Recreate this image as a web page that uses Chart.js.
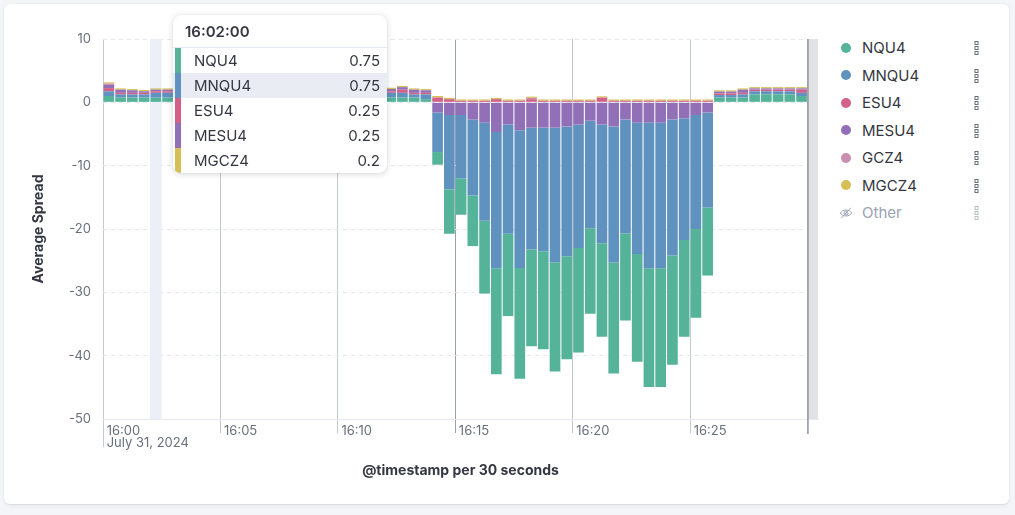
<!DOCTYPE html>
<html>
<head>
<meta charset="utf-8">
<script src="https://cdn.jsdelivr.net/npm/chart.js@4.4.1/dist/chart.umd.min.js"></script>
<style>
html,body{margin:0;padding:0;width:1015px;height:515px;overflow:hidden;background:#F3F5F9;font-family:Inter,"Noto Sans",sans-serif;}
#card{position:absolute;left:4px;top:4px;width:1005px;height:500px;background:#fff;border-radius:6px;box-shadow:0 0.7px 1.4px rgba(0,0,0,0.07),0 1.9px 4px rgba(0,0,0,0.05);}
#wrap{position:absolute;left:0;top:0;width:830px;height:515px;}
#legend{position:absolute;left:838px;top:34px;width:160px;}
.li{position:relative;height:27.5px;display:flex;align-items:center;font-size:15px;color:#343741;}
.dot{width:10px;height:10px;border-radius:50%;margin-left:3px;margin-right:11px;flex:none;}
.kebab{position:absolute;left:136px;top:7px;}
.other{color:#98A2B3;}
#tip{position:absolute;left:173px;top:15px;width:214px;height:158px;background:#fff;border-radius:8px;box-shadow:0 1px 6px rgba(0,0,0,0.16),0 0 1px rgba(0,0,0,0.12);overflow:hidden;color:#343741;}
#tiph{height:32px;line-height:33px;padding-left:12px;font-size:15px;font-weight:600;border-bottom:1px solid #E3E8F2;}
.tr{position:relative;height:25px;line-height:25px;font-size:15px;}
.tr .strip{position:absolute;left:1.5px;top:0;width:6px;height:100%;}
.tr .lab{position:absolute;left:21px;}
.tr .val{position:absolute;right:7px;}
.tr.hl{background:#E9EDF3;}
</style>
</head>
<body>
<div id="card"></div>
<div id="wrap"><canvas id="c"></canvas></div>
<div id="legend"></div>
<div id="tip"></div>
<script>
// ---- data ----
const seriesNames = ['NQU4', 'MNQU4', 'ESU4', 'MESU4', 'GCZ4', 'MGCZ4'];
const seriesColors = ['#54B399', '#6092C0', '#D36086', '#9170B8', '#CA8EAE', '#D6BF57'];
const otherLabel = 'Other';

const NQU4 = [
  1.0, 0.75, 0.75, 0.75, 0.75, 0.75,
  0.75, 0.75, 1.0, 0.75, 0.75, 0.75, 1.0, 0.75, 0.75, 0.75, 1.0, 0.75, 0.75, 0.75, 0.75, 1.0, 0.75, 0.75,
  0.75, 0.75, 0.75, 0.5,
  -2.0, -7.0, -5.75, -8.0, -11.5, -16.75, -13.0, -17.5, -15.25, -15.5, -17.25, -16.25,
  -16.5, -13.5, -14.75, -17.5, -13.75, -17.0, -18.75, -18.75, -17.25, -15.25, -14.0, -10.75,
  0.75, 0.75, 0.75, 1.25, 1.25, 1.25, 1.25, 1.0
];
const MNQU4 = [
  0.75, 0.5, 0.5, 0.5, 0.75, 0.75,
  0.75, 0.5, 0.75, 0.75, 0.5, 0.75, 0.75, 0.75, 0.5, 0.75, 0.75, 0.75, 0.5, 0.75, 0.75, 0.75, 0.5, 0.75,
  0.75, 0.75, 0.5, 0.75,
  -6.25, -11.75, -10.0, -12.0, -15.5, -21.5, -17.25, -21.75, -19.25, -19.5, -21.25, -20.5,
  -19.5, -17.0, -18.75, -21.5, -18.0, -20.75, -23.0, -23.0, -21.5, -19.25, -18.0, -15.0,
  0.4, 0.4, 0.5, 0.5, 0.5, 0.5, 0.5, 0.5
];
const ESU4 = [
  0.5, 0.25, 0.25, 0.25, 0.25, 0.25,
  0.25, 0.25, 0.5, 0.25, 0.25, 0.25, 0.25, 0.5, 0.25, 0.25, 0.25, 0.25, 0.25, 0.5, 0.25, 0.25, 0.25, 0.25,
  0.25, 0.5, 0.25, 0.25,
  0.75, 0.5, 0.25, 0.25, 0.25, 0.5, 0.25, 0.25, 0.5, 0.25, 0.25, 0.25,
  0.25, 0.25, 0.75, 0.25, 0.25, 0.25, 0.25, 0.25, 0.25, 0.25, 0.25, 0.25,
  0.25, 0.25, 0.25, 0.25, 0.25, 0.25, 0.25, 0.5
];
const MESU4 = [
  0.5, 0.5, 0.4, 0.25, 0.25, 0.25,
  0.25, 0.5, 0.25, 0.25, 0.5, 0.25, 0.25, 0.25, 0.5, 0.25, 0.25, 0.5, 0.25, 0.25, 0.25, 0.25, 0.5, 0.25,
  0.35, 0.4, 0.5, 0.4,
  -1.6, -2.0, -2.0, -2.7, -3.2, -4.7, -3.5, -4.4, -4.0, -4.0, -4.0, -3.8,
  -3.5, -2.9, -3.5, -3.8, -2.7, -3.2, -3.2, -3.2, -2.7, -2.5, -2.0, -1.6,
  0.3, 0.3, 0.5, 0.2, 0.2, 0.2, 0.2, 0.2
];
const GCZ4 = [
  0.2, null, null, null, null, null,
  null, null, null, null, null, null, null, null, null, null, null, null, null, null, null, null, null, null,
  null, null, null, null,
  null, null, null, null, null, null, null, null, 0.2, null, null, null,
  null, null, null, null, null, null, null, null, null, null, null, null,
  null, null, null, null, null, null, null, null
];
const MGCZ4 = [
  0.2, 0.2, 0.2, 0.2, 0.2, 0.2,
  0.2, 0.2, 0.2, 0.2, 0.2, 0.2, 0.2, 0.2, 0.2, 0.2, 0.2, 0.2, 0.2, 0.2, 0.2, 0.2, 0.2, 0.2,
  0.2, 0.2, 0.2, 0.2,
  0.25, 0.2, 0.2, 0.2, 0.2, 0.2, 0.2, 0.2, 0.2, 0.2, 0.2, 0.2,
  0.2, 0.2, 0.2, 0.2, 0.2, 0.2, 0.2, 0.2, 0.2, 0.2, 0.2, 0.2,
  0.2, 0.2, 0.2, 0.2, 0.2, 0.2, 0.2, 0.2
];

const yTicks = [10, 0, -10, -20, -30, -40, -50];
const xTickMinutes = [0, 5, 10, 15, 20, 25];
const xTickLabels = ['16:00', '16:05', '16:10', '16:15', '16:20', '16:25'];
const dateLabel = 'July 31, 2024';
const bucketMinutes = 0.5;     // 30 seconds
const rangeEndMinutes = 30;    // 16:30, shaded beyond
const domainMaxMinutes = 30.45;
const hoverIndex = 4;          // 16:02:00
const highlightedRow = 'MNQU4';
const yTitle = 'Average Spread';
const xTitle = '@timestamp per 30 seconds';

// ---- build chart ----
const series = [NQU4, MNQU4, ESU4, MESU4, GCZ4, MGCZ4];
const xOf = i => i * bucketMinutes + bucketMinutes / 2;
const datasets = [];
series.forEach((arr, k) => {
  datasets.push({
    label: seriesNames[k],
    data: arr.map((v, i) => ({x: xOf(i), y: (v != null && v >= 0) ? v : null})),
    backgroundColor: seriesColors[k], stack: 's'
  });
});
for (let k = series.length - 1; k >= 0; k--) {
  const arr = series[k];
  datasets.push({
    label: seriesNames[k] + ' (neg)',
    data: arr.map((v, i) => ({x: xOf(i), y: (v != null && v < 0) ? v : null})),
    backgroundColor: seriesColors[k], stack: 's'
  });
}

const overlayPlugin = {
  id: 'overlay',
  beforeDatasetsDraw(chart) {
    const {ctx, chartArea: a, scales: {x}} = chart;
    ctx.save();
    const x0 = x.getPixelForValue(hoverIndex * bucketMinutes);
    const x1 = x.getPixelForValue((hoverIndex + 1) * bucketMinutes);
    ctx.fillStyle = '#EBEFF7';
    ctx.fillRect(x0, a.top, x1 - x0, a.bottom - a.top);
    const xe = x.getPixelForValue(rangeEndMinutes);
    ctx.fillStyle = '#E0E2E6';
    ctx.fillRect(xe, a.top, a.right - xe, a.bottom - a.top);
    ctx.strokeStyle = '#8E949C';
    ctx.lineWidth = 1.5;
    ctx.beginPath();
    ctx.moveTo(xe + 0.5, a.top);
    ctx.lineTo(xe + 0.5, a.bottom + 15);
    ctx.stroke();
    ctx.restore();
  },
  afterDraw(chart) {
    const {ctx, chartArea: a, scales: {x}} = chart;
    ctx.save();
    const x0 = Math.round(x.getPixelForValue(0)) + 0.5;
    ctx.strokeStyle = '#C5C9D0';
    ctx.lineWidth = 1;
    ctx.beginPath();
    ctx.moveTo(x0, a.bottom + 14);
    ctx.lineTo(x0, a.bottom + 28);
    ctx.stroke();
    ctx.restore();
  }
};

new Chart(document.getElementById('c'), {
  type: 'bar',
  data: {datasets},
  plugins: [overlayPlugin],
  options: {
    responsive: true,
    maintainAspectRatio: false,
    animation: false,
    events: [],
    layout: {padding: {left: 20, top: 39, right: 12, bottom: 0}},
    datasets: {bar: {barPercentage: 0.91, categoryPercentage: 1, borderWidth: 0}},
    plugins: {legend: {display: false}, tooltip: {enabled: false}},
    scales: {
      x: {
        type: 'linear', min: 0, max: domainMaxMinutes, stacked: true, offset: false,
        afterBuildTicks: s => { s.ticks = xTickMinutes.map(v => ({value: v})); },
        afterFit: s => { s.height = 96; },
        grid: {
          offset: false, drawOnChartArea: true, drawTicks: true, tickLength: 14, lineWidth: 1,
          color: c => (c.tick && c.tick.value === 15) ? '#9AA0A8' : '#C5C9D0'
        },
        border: {display: true, color: '#E6E9EF'},
        ticks: {
          align: 'start', padding: -8, autoSkip: false, maxRotation: 0,
          color: '#69707D', font: {family: 'Inter', size: 13, lineHeight: 0.95},
          callback: (v, i) => i === 0 ? [' ' + xTickLabels[0], ' ' + dateLabel] : ' ' + xTickLabels[i]
        },
        title: {
          display: true, text: xTitle, color: '#343741',
          font: {family: 'Inter', size: 14, weight: 'bold'}, padding: {top: 0, bottom: 35.6}
        }
      },
      y: {
        min: -50, max: 10, stacked: true,
        afterBuildTicks: s => { s.ticks = yTicks.map(v => ({value: v})); },
        afterFit: s => { s.width = 83; },
        grid: {color: '#E3E7EE', drawTicks: false, lineWidth: 1},
        border: {display: false, dash: [4, 4]},
        ticks: {padding: 12, color: '#69707D', font: {family: 'Inter', size: 13}},
        title: {
          display: true, text: yTitle, color: '#343741',
          font: {family: 'Inter', size: 14, weight: 'bold'}, padding: {top: 10.5, bottom: 0}
        }
      }
    }
  }
});

// ---- legend ----
const kebab = c => `<svg class="kebab" width="6" height="14" viewBox="0 0 6 14"><g fill="none" stroke="${c}" stroke-width="1"><rect x="1" y="0.5" width="3" height="3"/><rect x="1" y="5.5" width="3" height="3"/><rect x="1" y="10.5" width="3" height="3"/></g></svg>`;
const legend = document.getElementById('legend');
let lh = '';
seriesNames.forEach((n, k) => {
  lh += `<div class="li"><span class="dot" style="background:${seriesColors[k]}"></span>${n}${kebab('#69707D')}</div>`;
});
lh += `<div class="li other"><svg width="14" height="14" viewBox="0 0 16 16" style="margin-left:1px;margin-right:9px"><g fill="none" stroke="#98A2B3" stroke-width="1.1"><path d="M1.5 8 C4 3.5 12 3.5 14.5 8 C12 12.5 4 12.5 1.5 8 Z"/><circle cx="8" cy="8" r="2.3"/><path d="M2.5 14 L13.5 2"/></g></svg>${otherLabel}${kebab('#B8BEC8')}</div>`;
legend.innerHTML = lh;

// ---- tooltip (hovered bucket) ----
const pad = n => String(n).padStart(2, '0');
const secs = hoverIndex * bucketMinutes * 60;
const header = `${16 + Math.floor(secs / 3600)}:${pad(Math.floor(secs / 60) % 60)}:${pad(secs % 60)}`;
let th = `<div id="tiph">${header}</div>`;
seriesNames.forEach((n, k) => {
  const v = series[k][hoverIndex];
  if (v == null) return;
  th += `<div class="tr${n === highlightedRow ? ' hl' : ''}"><span class="strip" style="background:${seriesColors[k]}"></span><span class="lab">${n}</span><span class="val">${v}</span></div>`;
});
document.getElementById('tip').innerHTML = th;
</script>
</body>
</html>
